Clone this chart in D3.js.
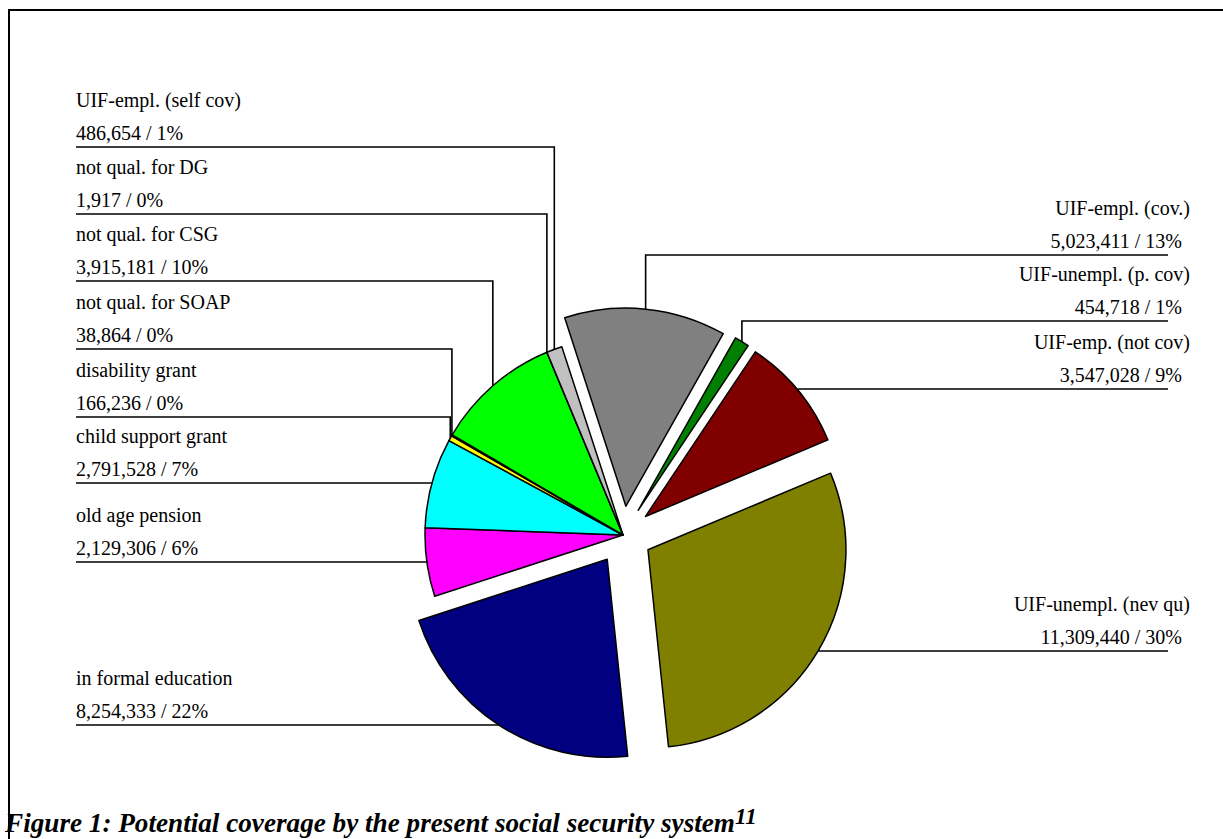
<!DOCTYPE html>
<html>
<head>
<meta charset="utf-8">
<script src="https://cdn.jsdelivr.net/npm/d3@7"></script>
<style>
  html, body { margin: 0; padding: 0; background: #fff; }
  svg { display: block; }
  text { font-family: "Liberation Serif", "Times New Roman", serif; fill: #000; }
</style>
</head>
<body>
<svg id="chart" width="1223" height="839"></svg>
<script>
// Population groups and their potential coverage, in slice order (clockwise)
const categories = [
  "UIF-empl. (cov.)",
  "UIF-unempl. (p. cov)",
  "UIF-emp. (not cov)",
  "UIF-unempl. (nev qu)",
  "in formal education",
  "old age pension",
  "child support grant",
  "disability grant",
  "not qual. for SOAP",
  "not qual. for CSG",
  "not qual. for DG",
  "UIF-empl. (self cov)"
];
const values = [5023411, 454718, 3547028, 11309440, 8254333, 2129306, 2791528, 166236, 38864, 3915181, 1917, 486654];
const explodedSlices = ["UIF-empl. (cov.)", "UIF-unempl. (p. cov)", "UIF-emp. (not cov)", "UIF-unempl. (nev qu)", "in formal education"];
const sliceColors = ["#808080", "#008000", "#800000", "#808000", "#000080", "#FF00FF", "#00FFFF", "#FFFF00", "#008080", "#00FF00", "#800080", "#C0C0C0"];

// Label placement: side of the chart and the height of each label's underline
const labelSide = ["right", "right", "right", "right", "left", "left", "left", "left", "left", "left", "left", "left"];
const labelLineY = [255, 321, 389, 651, 725, 562, 483, 417, 349, 281, 214, 147];

const titleText = "Figure 1: Potential coverage by the present social security system";
const titleNote = "11";

const svg = d3.select("#chart");

// Outer frame (top and left edges)
svg.append("path")
  .attr("d", "M9,839 V10 H1223")
  .attr("fill", "none")
  .attr("stroke", "#000")
  .attr("stroke-width", 2);

const cx = 623, cy = 535, radius = 198, explodeBy = 29;
const startAngle = -18 * Math.PI / 180;

const data = categories.map((c, i) => ({ name: c, value: values[i], color: sliceColors[i], side: labelSide[i], lineY: labelLineY[i] }));
const total = d3.sum(values);

const pie = d3.pie().sort(null).value(d => d.value)
  .startAngle(startAngle).endAngle(startAngle + 2 * Math.PI);
const arc = d3.arc().innerRadius(0).outerRadius(radius);
const arcs = pie(data);

function offset(a) {
  if (!explodedSlices.includes(a.data.name)) return [0, 0];
  const mid = (a.startAngle + a.endAngle) / 2;
  return [Math.sin(mid) * explodeBy, -Math.cos(mid) * explodeBy];
}

const g = svg.append("g").attr("transform", `translate(${cx},${cy})`);
g.selectAll("path.slice")
  .data(arcs)
  .join("path")
  .attr("class", "slice")
  .attr("transform", d => { const o = offset(d); return `translate(${o[0]},${o[1]})`; })
  .attr("d", arc)
  .attr("fill", d => d.data.color)
  .attr("stroke", "#000")
  .attr("stroke-width", 1.5)
  .attr("stroke-linejoin", "round");

// Labels with leader lines
const fmtNum = d3.format(",");
const pct = v => Math.round(v / total * 100) + "%";
const leftX = 76, rightLineX = 1168, rightText1 = 1190, rightText2 = 1182;

arcs.forEach(a => {
  const d = a.data;
  const mid = (a.startAngle + a.endAngle) / 2;
  const o = offset(a);
  const ax = cx + o[0] + Math.sin(mid) * radius;
  const ay = cy + o[1] - Math.cos(mid) * radius;
  const y = d.lineY;
  const left = d.side === "left";
  const x0 = left ? leftX : rightLineX;

  svg.append("path")
    .attr("d", `M${x0},${y} H${ax} V${ay}`)
    .attr("fill", "none")
    .attr("stroke", "#000")
    .attr("stroke-width", 1.6);

  svg.append("text")
    .attr("x", left ? leftX : rightText1)
    .attr("y", y - 40)
    .attr("text-anchor", left ? "start" : "end")
    .attr("font-size", 20)
    .text(d.name);
  svg.append("text")
    .attr("x", left ? leftX : rightText2)
    .attr("y", y - 7)
    .attr("text-anchor", left ? "start" : "end")
    .attr("font-size", 20)
    .text(`${fmtNum(d.value)} / ${pct(d.value)}`);
});

// Caption
const title = svg.append("text")
  .attr("x", 0).attr("y", 0)
  .attr("font-size", 26)
  .attr("font-weight", "bold")
  .attr("font-style", "italic");
title.append("tspan").text(titleText);
title.append("tspan").attr("dy", -8).attr("font-size", 22).text(titleNote);
const natural = title.node().getComputedTextLength();
const targetWidth = 752;
title.attr("transform", `translate(5,832) scale(${targetWidth / natural},1.05)`);
</script>
</body>
</html>
